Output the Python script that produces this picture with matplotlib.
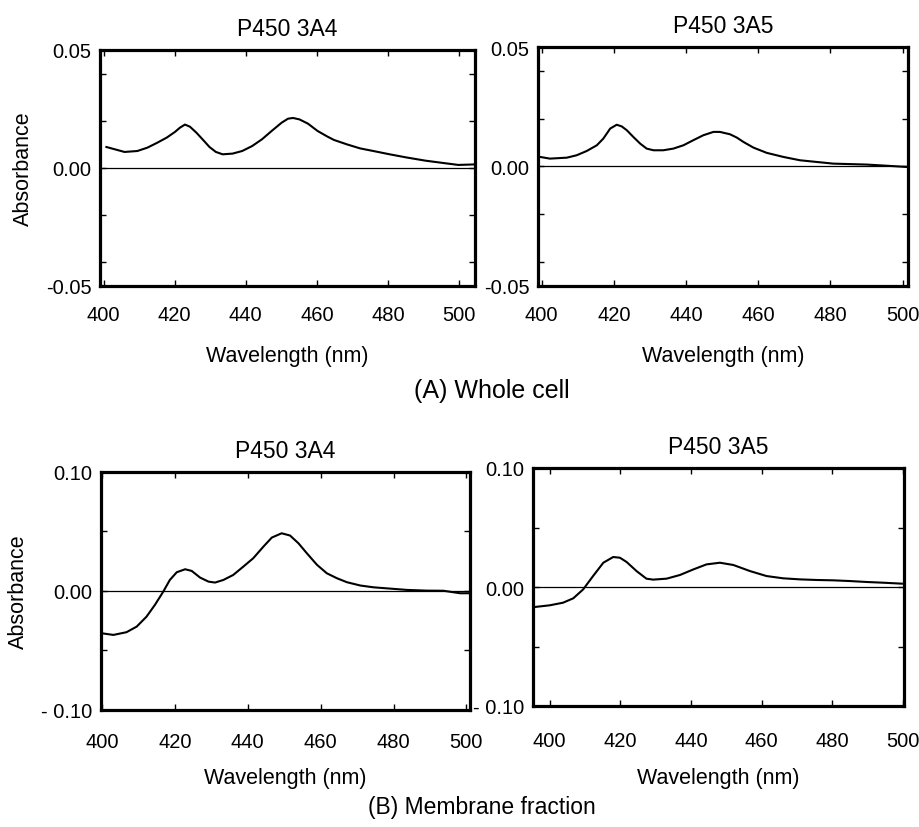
"""
P450 3A4 / 3A5 difference spectra: whole cell (A) and membrane fraction (B)
"""

import matplotlib.pyplot as plt
from matplotlib.ticker import FixedLocator, FixedFormatter

plt.rcParams['font.family'] = ['Liberation Sans', 'DejaVu Sans']

# (A) whole cell, 3A4
wl_a4 = [400.8, 405.9, 409.5, 412.3, 415.1, 417.8, 420.1, 421.5, 422.9, 424.3, 426.1, 428.0,
         429.8, 431.6, 433.5, 436.3, 439.0, 441.8, 444.6, 447.3, 450.1, 451.9, 453.3, 455.1,
         457.5, 460.2, 463.0, 464.8, 468.5, 472.2, 475.9, 480.5, 485.1, 490.6, 496.2, 499.8, 504.0]
abs_a4 = [0.0089, 0.0068, 0.0072, 0.0086, 0.0107, 0.0129, 0.0153, 0.0171, 0.0184, 0.0175, 0.0150, 0.0119,
          0.0089, 0.0068, 0.0058, 0.0061, 0.0072, 0.0093, 0.0122, 0.0157, 0.0192, 0.0209, 0.0212, 0.0206,
          0.0188, 0.0157, 0.0133, 0.0119, 0.0100, 0.0083, 0.0072, 0.0058, 0.0045, 0.0031, 0.0020, 0.0013, 0.0015]

# (A) whole cell, 3A5
wl_a5 = [399.6, 402.3, 407.0, 409.7, 412.5, 415.3, 417.1, 419.0, 420.8, 422.2, 423.6, 425.4,
         427.3, 429.1, 431.0, 433.7, 436.5, 439.3, 442.0, 444.8, 447.6, 449.4, 452.2, 454.1,
         455.9, 458.7, 462.4, 467.0, 471.6, 476.2, 480.8, 490.1, 494.7, 501.2]
abs_a5 = [0.0039, 0.0032, 0.0036, 0.0046, 0.0064, 0.0088, 0.0116, 0.0158, 0.0174, 0.0167, 0.0151, 0.0123,
          0.0095, 0.0074, 0.0067, 0.0067, 0.0074, 0.0088, 0.0109, 0.0130, 0.0144, 0.0144, 0.0134, 0.0120,
          0.0102, 0.0078, 0.0056, 0.0039, 0.0025, 0.0018, 0.0011, 0.0007, 0.0003, -0.0003]

# (B) membrane fraction, 3A4
wl_b4 = [399.9, 403.1, 406.7, 409.5, 412.2, 414.5, 416.8, 418.6, 420.5, 422.8, 424.6, 426.9,
         429.2, 431.0, 433.3, 436.0, 438.8, 441.5, 444.3, 446.6, 449.3, 451.6, 453.9, 456.2,
         459.0, 461.7, 464.5, 467.2, 470.9, 474.5, 479.1, 483.7, 489.2, 493.7, 498.3, 501.0]
abs_b4 = [-0.0358, -0.0372, -0.0349, -0.0302, -0.0218, -0.0119, -0.0007, 0.0091, 0.0156, 0.0181, 0.0167, 0.0111,
          0.0077, 0.0069, 0.0091, 0.0133, 0.0204, 0.0274, 0.0372, 0.0448, 0.0484, 0.0465, 0.0400, 0.0316,
          0.0218, 0.0147, 0.0105, 0.0072, 0.0044, 0.0029, 0.0018, 0.0007, 0.0001, 0.0000, -0.0021, -0.0021]

# (B) membrane fraction, 3A5
wl_b5 = [395.8, 400.0, 403.8, 406.7, 409.5, 412.3, 415.2, 418.0, 419.9, 421.8, 424.6, 427.4,
         429.3, 433.1, 436.9, 440.7, 444.4, 448.2, 452.0, 456.7, 461.4, 466.1, 470.9, 475.6,
         480.3, 485.0, 489.8, 494.5, 499.7]
abs_b5 = [-0.0168, -0.0154, -0.0132, -0.0095, -0.0020, 0.0092, 0.0204, 0.0252, 0.0246, 0.0210, 0.0134, 0.0070,
          0.0062, 0.0070, 0.0101, 0.0148, 0.0190, 0.0204, 0.0185, 0.0134, 0.0092, 0.0073, 0.0064, 0.0059,
          0.0056, 0.0050, 0.0042, 0.0036, 0.0028]

x_ticks = [400, 420, 440, 460, 480, 500]
y_ticks_a = [-0.05, 0.0, 0.05]
y_labels_a = ['-0.05', '0.00', '0.05']
y_minor_a = [-0.04, -0.02, 0.02, 0.04]
y_ticks_b = [-0.10, 0.0, 0.10]
y_labels_b = ['- 0.10', '0.00', '0.10']
y_minor_b = [-0.05, 0.05]

W, H = 919, 828
fig = plt.figure(figsize=(W / 100, H / 100), dpi=100)


def px_axes(l, t, r, b):
    return fig.add_axes([l / W, 1 - b / H, (r - l) / W, (b - t) / H])


def panel(box, wl, ab, title, xlim, lim, yt, ylab, ymin, ylabel=False, xpad=14, lpad=15):
    ax = px_axes(*box)
    ax.plot(wl, ab, color='black', lw=1.5, solid_joinstyle='round')
    ax.axhline(0, color='black', lw=0.9)
    ax.set_xlim(*xlim)
    ax.set_ylim(-lim, lim)
    ax.xaxis.set_major_locator(FixedLocator(x_ticks))
    ax.yaxis.set_major_locator(FixedLocator(yt))
    ax.yaxis.set_major_formatter(FixedFormatter(ylab))
    ax.yaxis.set_minor_locator(FixedLocator(ymin))
    for s in ax.spines.values():
        s.set_linewidth(2.3)
    ax.tick_params(direction='in', top=True, right=True, length=4, width=1,
                   labelsize=14.5)
    ax.tick_params(axis='x', pad=xpad)
    ax.tick_params(axis='y', pad=6)
    ax.tick_params(which='minor', direction='in', right=True, length=4, width=1)
    ax.set_title(title, fontsize=16.5, pad=11)
    ax.set_xlabel('Wavelength (nm)', fontsize=15.5, labelpad=lpad)
    if ylabel:
        ax.set_ylabel('Absorbance', fontsize=15.5, labelpad=9)
    return ax


panel((100, 51, 475, 287), wl_a4, abs_a4, 'P450 3A4', (399, 504.5), 0.05,
      y_ticks_a, y_labels_a, y_minor_a, ylabel=True)
panel((538, 48, 908, 286.5), wl_a5, abs_a5, 'P450 3A5', (399, 501.5), 0.05,
      y_ticks_a, y_labels_a, y_minor_a)
panel((101, 473, 470, 710.5), wl_b4, abs_b4, 'P450 3A4', (399.7, 501), 0.10,
      y_ticks_b, y_labels_b, y_minor_b, ylabel=True, xpad=16, lpad=12)
panel((533, 469, 904, 707), wl_b5, abs_b5, 'P450 3A5', (395.3, 500.3), 0.10,
      y_ticks_b, y_labels_b, y_minor_b, xpad=18, lpad=12)

fig.text(492 / W, 1 - 391 / H, '(A) Whole cell', fontsize=18, ha='center', va='center')
fig.text(482 / W, 1 - 808 / H, '(B) Membrane fraction', fontsize=16.5, ha='center', va='center')

fig.savefig('out.png', dpi=100)
